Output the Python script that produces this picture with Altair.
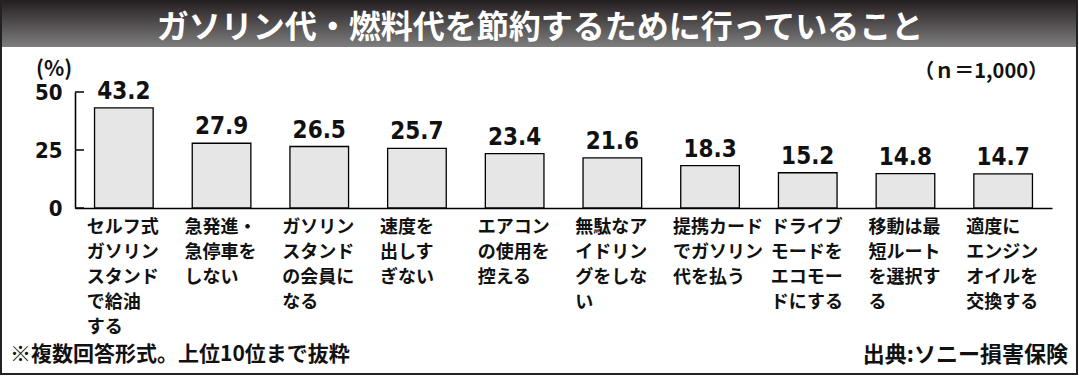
import altair as alt
import pandas as pd

# ---- data ----
categories = [
    "セルフ式\nガソリン\nスタンド\nで給油\nする",
    "急発進・\n急停車を\nしない",
    "ガソリン\nスタンド\nの会員に\nなる",
    "速度を\n出しす\nぎない",
    "エアコン\nの使用を\n控える",
    "無駄なア\nイドリン\nグをしな\nい",
    "提携カード\nでガソリン\n代を払う",
    "ドライブ\nモードを\nエコモー\nドにする",
    "移動は最\n短ルート\nを選択す\nる",
    "適度に\nエンジン\nオイルを\n交換する",
]
values = [43.2, 27.9, 26.5, 25.7, 23.4, 21.6, 18.3, 15.2, 14.8, 14.7]
value_labels = ["43.2", "27.9", "26.5", "25.7", "23.4", "21.6", "18.3", "15.2", "14.8", "14.7"]
y_ticks = [0, 25, 50]

title_text = "ガソリン代・燃料代を節約するために行っていること"
unit_text = "(%)"
n_text = "（ｎ＝1,000）"
note_text = "※複数回答形式。上位10位まで抜粋"
source_text = "出典:ソニー損害保険"

JP = "Noto Sans CJK JP"
NUM = "'Liberation Sans Narrow', 'DejaVu Sans Condensed', 'Roboto Condensed', 'Arial Narrow', 'Roboto', sans-serif"

df = pd.DataFrame({"cat": categories, "val": values, "lab": value_labels})
ticks_df = pd.DataFrame({"t": y_ticks})
one = pd.DataFrame({"a": [0]})

W, H = 977, 116

xscale = alt.Scale(domain=categories, paddingInner=0.4, paddingOuter=0.2)
yscale = alt.Scale(domain=[0, 50], nice=False)

X = alt.X("cat:N", sort=categories, scale=xscale,
          axis=alt.Axis(labels=False, ticks=False, title=None, domainColor="black",
                        domainWidth=1.6))
Y = alt.Y("val:Q", scale=yscale,
          axis=alt.Axis(values=y_ticks, ticks=False, grid=False, title=None,
                        labelPadding=13, labelFontSize=22, labelFont=NUM,
                        labelFontWeight="bold", labelColor="#111",
                        domainColor="black", domainWidth=1.6))

base = alt.Chart(df)

bars = base.mark_bar(fill="#e6e6e6", stroke="black", strokeWidth=1.3).encode(x=X, y=Y)

vlabels = base.mark_text(baseline="alphabetic", dy=-9, fontSize=24, font=NUM,
                         fontWeight="bold", color="#111").encode(
    x=alt.X("cat:N", sort=categories, scale=xscale),
    y=alt.Y("val:Q", scale=yscale),
    text="lab:N")

clabels = base.mark_text(align="left", baseline="top", lineBreak="\n", lineHeight=25,
                         dx=-37, fontSize=18, font=JP, fontWeight="bold",
                         color="#111").encode(
    x=alt.X("cat:N", sort=categories, scale=xscale),
    y=alt.value(H + 11),
    text="cat:N")

yticks = alt.Chart(ticks_df).mark_rule(color="black", strokeWidth=1.5).encode(
    y=alt.Y("t:Q", scale=yscale), x=alt.value(0), x2=alt.value(9))

grad = {"gradient": "linear", "x1": 0, "y1": 0, "x2": 0, "y2": 1,
        "stops": [{"offset": 0, "color": "#241d1f"}, {"offset": 1, "color": "#7e7e7e"}]}

title_bar = alt.Chart(one).mark_rect(fill=grad).encode(
    x=alt.value(-75), x2=alt.value(1002), y=alt.value(-92), y2=alt.value(-45))

frame = alt.Chart(one).mark_rect(fill="white", fillOpacity=0, stroke="#222",
                                 strokeWidth=2).encode(
    x=alt.value(-74), x2=alt.value(1002), y=alt.value(-91), y2=alt.value(282))

title = alt.Chart(one).mark_text(text=title_text, fontSize=32, font=JP, fontWeight="bold",
                                 color="white", align="center", baseline="alphabetic").encode(
    x=alt.value(465), y=alt.value(-54))

unit = alt.Chart(one).mark_text(text=unit_text, fontSize=21, font=JP, fontWeight="bold",
                                color="#111", align="left", baseline="middle").encode(
    x=alt.value(-39), y=alt.value(-22))

ntxt = alt.Chart(one).mark_text(text=n_text, fontSize=20, font=JP, fontWeight="bold",
                                color="#111", align="right", baseline="middle").encode(
    x=alt.value(973), y=alt.value(-20))

note = alt.Chart(one).mark_text(text=note_text, fontSize=21, font=JP, fontWeight="bold",
                                color="#111", align="left", baseline="middle").encode(
    x=alt.value(-65), y=alt.value(263))

source = alt.Chart(one).mark_text(text=source_text, fontSize=22, font=JP, fontWeight="bold",
                                  color="#111", align="right", baseline="middle").encode(
    x=alt.value(993), y=alt.value(263))

chart = alt.layer(
    title_bar, frame, bars, yticks, vlabels, clabels, title, unit, ntxt, note, source
).properties(
    width=W, height=H,
    autosize=alt.AutoSizeParams(type="none"),
    padding={"left": 75, "top": 92, "right": 27, "bottom": 169},
    background="white",
).configure_view(stroke=None)

chart.save("out.html", embed_options={"renderer": "svg", "actions": False})
